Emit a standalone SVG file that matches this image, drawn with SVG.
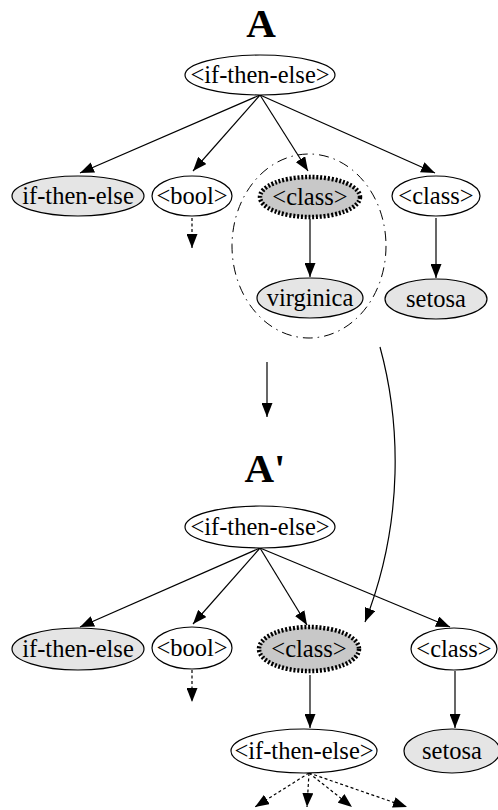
<svg xmlns="http://www.w3.org/2000/svg" width="498" height="810" viewBox="0 0 498 810">
  <style>
    .title { font-family: "Liberation Serif", "Times New Roman", serif; font-weight: bold; font-size: 41px; text-anchor: middle; fill: #000; }
    .lbl { font-family: "Liberation Serif", "Times New Roman", serif; font-size: 24.5px; text-anchor: middle; fill: #000; }
    .plain { fill: #fff; stroke: #000; stroke-width: 1.2; }
    .leaf { fill: #e5e5e5; stroke: #000; stroke-width: 1.2; }
    .hot { fill: #c8c8c8; stroke: #000; stroke-width: 4.5; stroke-dasharray: 2 1.8; }
    .edge { fill: none; stroke: #000; stroke-width: 1.2; }
    .dash { fill: none; stroke: #000; stroke-width: 1.2; stroke-dasharray: 3 2.5; }
    .scope { fill: none; stroke: #000; stroke-width: 1; stroke-dasharray: 10 5 1.5 5; }
  </style>
  <defs>
    <marker id="head" markerUnits="userSpaceOnUse" markerWidth="15" markerHeight="11" refX="14" refY="5.5" orient="auto">
      <path d="M0,0 L14,5.5 L0,11 Z" fill="#000" stroke="none"/>
    </marker>
  </defs>

  <!-- tree A -->
  <text class="title" x="261" y="37">A</text>

  <g id="edges">
    <!-- tree A edges -->
    <line class="edge" x1="260" y1="95" x2="80" y2="173" marker-end="url(#head)"/>
    <line class="edge" x1="260" y1="95" x2="193" y2="171" marker-end="url(#head)"/>
    <line class="edge" x1="260" y1="95" x2="308" y2="171" marker-end="url(#head)"/>
    <line class="edge" x1="260" y1="95" x2="435" y2="173" marker-end="url(#head)"/>
    <line class="dash" x1="192" y1="218" x2="192" y2="248" marker-end="url(#head)"/>
    <line class="edge" x1="310" y1="219" x2="310" y2="277" marker-end="url(#head)"/>
    <line class="edge" x1="436" y1="218" x2="436" y2="278" marker-end="url(#head)"/>

    <!-- transformation A to A' -->
    <line class="edge" x1="267" y1="362" x2="267" y2="417" marker-end="url(#head)"/>
    <path class="edge" d="M380,347 C400,420 405,520 365,622" marker-end="url(#head)"/>

    <!-- tree A' edges -->
    <line class="edge" x1="260" y1="548" x2="80" y2="627" marker-end="url(#head)"/>
    <line class="edge" x1="260" y1="548" x2="193" y2="624" marker-end="url(#head)"/>
    <line class="edge" x1="260" y1="548" x2="307" y2="625" marker-end="url(#head)"/>
    <line class="edge" x1="260" y1="548" x2="450" y2="627" marker-end="url(#head)"/>
    <line class="dash" x1="192" y1="670" x2="192" y2="702" marker-end="url(#head)"/>
    <line class="edge" x1="310" y1="675" x2="310" y2="728" marker-end="url(#head)"/>
    <line class="edge" x1="455" y1="671" x2="455" y2="728" marker-end="url(#head)"/>
    <line class="dash" x1="309" y1="773" x2="255" y2="807" marker-end="url(#head)"/>
    <line class="dash" x1="309" y1="773" x2="307" y2="807" marker-end="url(#head)"/>
    <line class="dash" x1="309" y1="773" x2="352" y2="807" marker-end="url(#head)"/>
    <line class="dash" x1="309" y1="773" x2="407" y2="807" marker-end="url(#head)"/>
  </g>

  <!-- subtree selected for replacement -->
  <ellipse id="scope" class="scope" cx="309" cy="246" rx="77" ry="92"/>

  <g id="a-root"><ellipse class="plain" cx="260" cy="75" rx="75" ry="20"/><text class="lbl" x="260" y="83">&lt;if-then-else&gt;</text></g>
  <g id="a-ite"><ellipse class="leaf" cx="78" cy="196" rx="66" ry="20"/><text class="lbl" x="78" y="204">if-then-else</text></g>
  <g id="a-bool"><ellipse class="plain" cx="192" cy="196" rx="40" ry="20"/><text class="lbl" x="192" y="204">&lt;bool&gt;</text></g>
  <g id="a-class1"><ellipse class="hot" cx="310" cy="197" rx="50" ry="20"/><text class="lbl" x="310" y="205">&lt;class&gt;</text></g>
  <g id="a-class2"><ellipse class="plain" cx="436" cy="196" rx="44" ry="20"/><text class="lbl" x="436" y="204">&lt;class&gt;</text></g>
  <g id="a-virginica"><ellipse class="leaf" cx="310" cy="298" rx="53" ry="20"/><text class="lbl" x="310" y="306">virginica</text></g>
  <g id="a-setosa"><ellipse class="leaf" cx="436" cy="299" rx="51" ry="20"/><text class="lbl" x="436" y="307">setosa</text></g>

  <!-- tree A' -->
  <text class="title" x="265" y="482">A'</text>

  <g id="b-root"><ellipse class="plain" cx="260" cy="527" rx="75" ry="21"/><text class="lbl" x="260" y="535">&lt;if-then-else&gt;</text></g>
  <g id="b-ite"><ellipse class="leaf" cx="78" cy="649" rx="66" ry="21"/><text class="lbl" x="78" y="657">if-then-else</text></g>
  <g id="b-bool"><ellipse class="plain" cx="192" cy="648" rx="40" ry="21"/><text class="lbl" x="192" y="656">&lt;bool&gt;</text></g>
  <g id="b-class1"><ellipse class="hot" cx="309" cy="649" rx="50" ry="22"/><text class="lbl" x="309" y="657">&lt;class&gt;</text></g>
  <g id="b-class2"><ellipse class="plain" cx="454" cy="649" rx="43" ry="21"/><text class="lbl" x="454" y="657">&lt;class&gt;</text></g>
  <g id="b-ite2"><ellipse class="plain" cx="304" cy="751" rx="73" ry="22"/><text class="lbl" x="304" y="759">&lt;if-then-else&gt;</text></g>
  <g id="b-setosa"><ellipse class="leaf" cx="452" cy="751" rx="48" ry="22"/><text class="lbl" x="452" y="759">setosa</text></g>
</svg>
